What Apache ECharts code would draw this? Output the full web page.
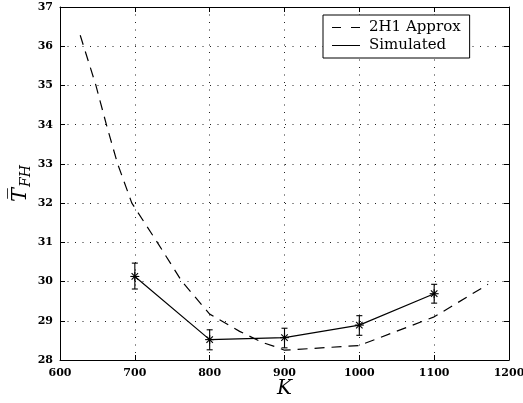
<!DOCTYPE html>
<html>
<head>
<meta charset="utf-8">
<script src="https://cdn.jsdelivr.net/npm/echarts@6/dist/echarts.min.js"></script>
<style>
  html, body { margin: 0; padding: 0; background: #fff; }
  #chart { width: 523px; height: 403px; }
</style>
</head>
<body>
<div id="chart"></div>
<script>
// 2H1 approximation (dashed)
const approxK = [627, 648, 662, 677, 696, 730, 763, 800, 840, 870, 889, 900, 1000, 1100, 1172];
const approxT = [36.28, 35, 34, 33, 32, 31, 30, 29.17, 28.73, 28.45, 28.33, 28.25, 28.37, 29.1, 29.93];

// simulated means with error bars
const simK = [700, 800, 900, 1000, 1100];
const simT = [30.13, 28.52, 28.57, 28.89, 29.69];
const simLo = [29.81, 28.26, 28.31, 28.63, 29.45];
const simHi = [30.47, 28.77, 28.81, 29.13, 29.93];

const serif = 'DejaVu Serif';

const chart = echarts.init(document.getElementById('chart'));

const approxData = approxK.map((k, i) => [k, approxT[i]]);
const simData = simK.map((k, i) => [k, simT[i]]);
const errData = simK.map((k, i) => [k, simT[i], simLo[i], simHi[i]]);

const gridLine = { show: true, lineStyle: { color: '#222', type: [1, 6.5], width: 1 } };
const tickIn = { show: true, inside: true, length: 5, lineStyle: { color: '#000' } };
const axLine = { show: true, onZero: false, lineStyle: { color: '#000', width: 1 } };
const tickLbl = { fontFamily: serif, fontSize: 11, color: '#000', fontWeight: 'bold', formatter: v => String(v) };

function renderErr(params, api) {
  const p = api.coord([api.value(0), api.value(1)]);
  const lo = api.coord([api.value(0), api.value(2)]);
  const hi = api.coord([api.value(0), api.value(3)]);
  const c = 3, r = 4.5, d = r * 0.72;
  const st = { stroke: '#000', lineWidth: 1.1 };
  const ln = (x1, y1, x2, y2) => ({ type: 'line', shape: { x1, y1, x2, y2 }, style: st });
  return {
    type: 'group',
    children: [
      ln(p[0], hi[1], p[0], lo[1]),
      ln(p[0] - c, hi[1], p[0] + c, hi[1]),
      ln(p[0] - c, lo[1], p[0] + c, lo[1]),
      ln(p[0] - r, p[1], p[0] + r, p[1]),
      ln(p[0], p[1] - r, p[0], p[1] + r),
      ln(p[0] - d, p[1] - d, p[0] + d, p[1] + d),
      ln(p[0] - d, p[1] + d, p[0] + d, p[1] - d)
    ]
  };
}

chart.setOption({
  animation: false,
  backgroundColor: '#fff',
  grid: { left: 60, right: 14, top: 7, bottom: 43, containLabel: false, outerBoundsMode: 'none' },
  legend: {
    orient: 'vertical',
    left: 323,
    top: 15,
    padding: [5, 9, 5, 9],
    backgroundColor: '#fff',
    borderColor: '#000',
    borderWidth: 1,
    itemWidth: 28,
    itemHeight: 1.2,
    itemGap: 3,
    textStyle: { fontFamily: serif, fontSize: 15, color: '#000', padding: [0, 0, 0, 4] },
    data: [
      { name: '2H1 Approx', icon: 'path://M0,0H9V1H0Z M19,0H28V1H19Z' },
      { name: 'Simulated', icon: 'path://M0,0H28V1H0Z' }
    ]
  },
  xAxis: [
    {
      type: 'value', min: 600, max: 1200, interval: 100,
      name: 'K', nameLocation: 'middle', nameGap: 19, nameMoveOverlap: false,
      nameTextStyle: { fontFamily: serif, fontStyle: 'italic', fontSize: 20, color: '#000' },
      axisLine: axLine, axisTick: tickIn, splitLine: gridLine,
      axisLabel: Object.assign({ margin: 8 }, tickLbl)
    },
    {
      type: 'value', position: 'top', min: 600, max: 1200, interval: 100,
      axisLine: axLine, axisTick: tickIn, splitLine: { show: false },
      axisLabel: { show: false }
    }
  ],
  yAxis: [
    {
      type: 'value', min: 28, max: 37, interval: 1,
      name: '{t|T\u0305}{s|FH}', nameLocation: 'middle', nameGap: 27, nameMoveOverlap: false,
      nameTextStyle: {
        rich: {
          t: { fontFamily: serif, fontStyle: 'italic', fontSize: 21, color: '#000' },
          s: { fontFamily: serif, fontStyle: 'italic', fontSize: 14, color: '#000', padding: [10, 0, 0, 1] }
        }
      },
      axisLine: axLine, axisTick: tickIn, splitLine: gridLine,
      axisLabel: Object.assign({ margin: 7 }, tickLbl)
    },
    {
      type: 'value', position: 'right', min: 28, max: 37, interval: 1,
      axisLine: axLine, axisTick: tickIn, splitLine: { show: false },
      axisLabel: { show: false }
    }
  ],
  series: [
    {
      name: '2H1 Approx',
      type: 'line',
      data: approxData,
      symbol: 'none',
      color: '#000',
      lineStyle: { color: '#000', width: 1.2, type: [10, 7] }
    },
    {
      name: 'Simulated',
      type: 'line',
      data: simData,
      symbol: 'none',
      color: '#000',
      lineStyle: { color: '#000', width: 1.2, type: 'solid' }
    },
    {
      name: 'err',
      type: 'custom',
      data: errData,
      renderItem: renderErr,
      encode: { x: 0, y: [1, 2, 3] },
      z: 5
    }
  ]
});
</script>
</body>
</html>
